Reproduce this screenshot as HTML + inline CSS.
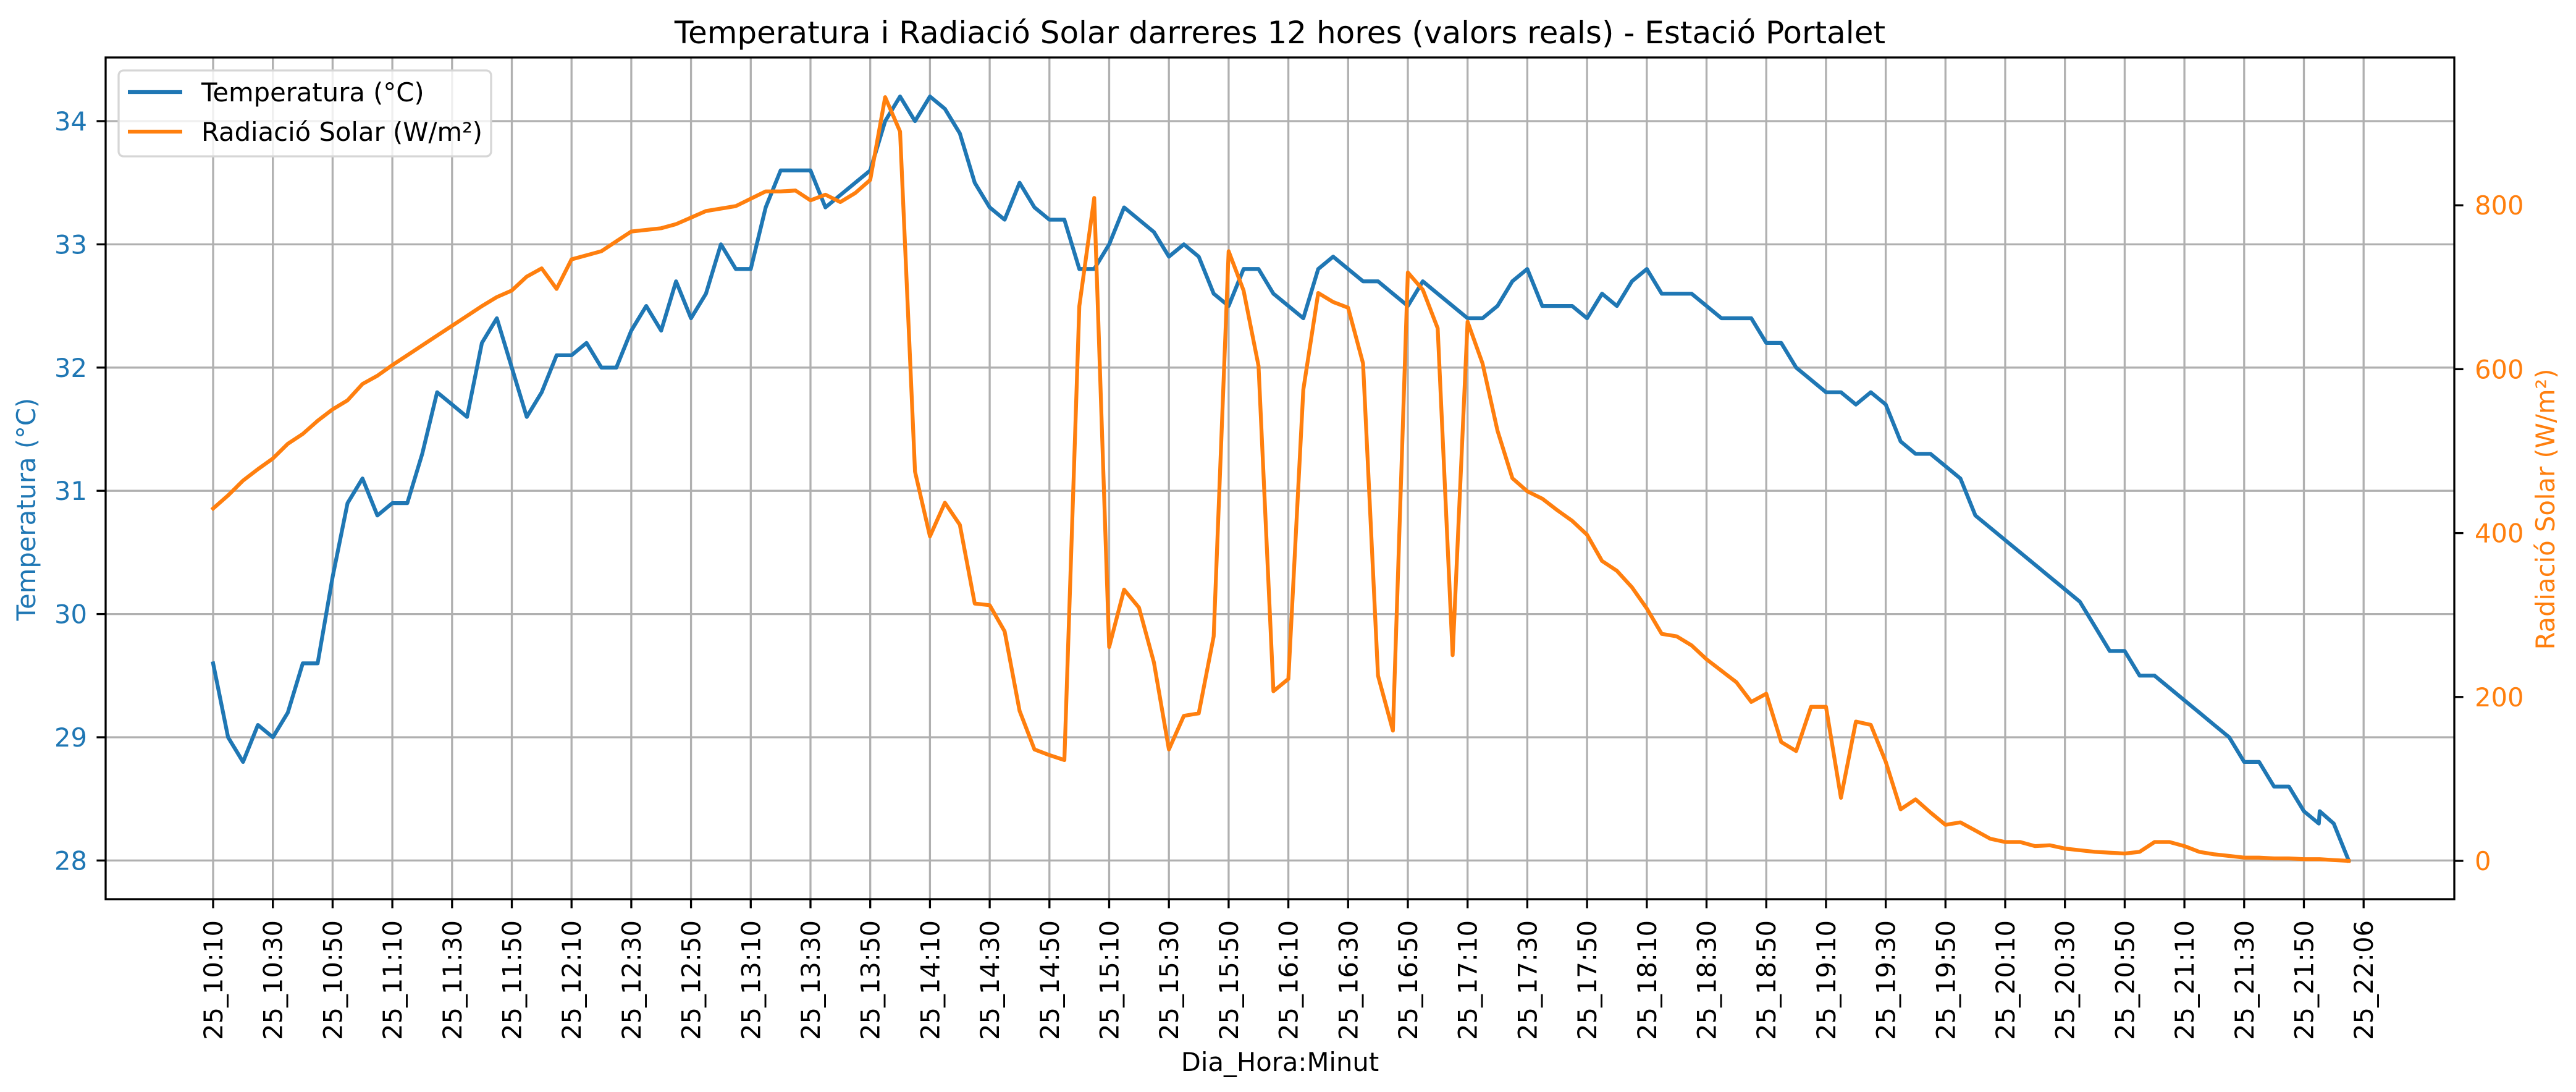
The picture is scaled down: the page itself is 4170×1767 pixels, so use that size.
<!DOCTYPE html>
<html><head><meta charset="utf-8"><title>Temperatura i Radiació Solar</title>
<style>
html,body{margin:0;padding:0;background:#fff;}
svg{display:block;font-family:"DejaVu Sans","Liberation Sans",sans-serif;}
</style></head>
<body>
<svg id="chart" xmlns="http://www.w3.org/2000/svg" width="4170" height="1767" viewBox="0 0 4170 1767">
  <rect x="0" y="0" width="4170" height="1767" fill="#fff"/>
  <text x="2072" y="70" font-size="50" text-anchor="middle" fill="#000">Temperatura i Radiació Solar darreres 12 hores (valors reals) - Estació Portalet</text>
  <g id="grid"></g>
  <g id="series"></g>
  <g id="axes"></g>
  <text transform="translate(57,824) rotate(-90)" font-size="41.7" text-anchor="middle" fill="#1f77b4">Temperatura (°C)</text>
  <text transform="translate(4135,824) rotate(-90)" font-size="41.7" text-anchor="middle" fill="#ff7f0e">Radiació Solar (W/m²)</text>
  <text x="2072" y="1733" font-size="41.7" text-anchor="middle" fill="#000">Dia_Hora:Minut</text>
  <g>
    <rect x="192" y="114" width="603" height="139" rx="8" fill="#fff" fill-opacity="0.8" stroke="#d6d6d6" stroke-width="3.3"/>
    <line x1="207" y1="149" x2="295" y2="149" stroke="#1f77b4" stroke-width="6.25"/>
    <text x="326" y="164" font-size="41.7" fill="#000">Temperatura (°C)</text>
    <line x1="207" y1="213" x2="295" y2="213" stroke="#ff7f0e" stroke-width="6.25"/>
    <text x="326" y="228" font-size="41.7" fill="#000">Radiació Solar (W/m²)</text>
  </g>
</svg>
<script>
// ---- data ----
const tickLabels = ["25_10:10","25_10:30","25_10:50","25_11:10","25_11:30","25_11:50","25_12:10","25_12:30","25_12:50","25_13:10","25_13:30","25_13:50","25_14:10","25_14:30","25_14:50","25_15:10","25_15:30","25_15:50","25_16:10","25_16:30","25_16:50","25_17:10","25_17:30","25_17:50","25_18:10","25_18:30","25_18:50","25_19:10","25_19:30","25_19:50","25_20:10","25_20:30","25_20:50","25_21:10","25_21:30","25_21:50","25_22:06"];
const tickMinutes = [0,20,40,60,80,100,120,140,160,180,200,220,240,260,280,300,320,340,360,380,400,420,440,460,480,500,520,540,560,580,600,620,640,660,680,700,720];
const sampleMinutes = [0,5,10,15,20,25,30,35,40,45,50,55,60,65,70,75,80,85,90,95,100,105,110,115,120,125,130,135,140,145,150,155,160,165,170,175,180,185,190,195,200,205,210,215,220,225,230,235,240,245,250,255,260,265,270,275,280,285,290,295,300,305,310,315,320,325,330,335,340,345,350,355,360,365,370,375,380,385,390,395,400,405,410,415,420,425,430,435,440,445,450,455,460,465,470,475,480,485,490,495,500,505,510,515,520,525,530,535,540,545,550,555,560,565,570,575,580,585,590,595,600,605,610,615,620,625,630,635,640,645,650,655,660,665,670,675,680,685,690,695,700,705,705.3,710,715];
const temperature = [29.6,29.0,28.8,29.1,29.0,29.2,29.6,29.6,30.3,30.9,31.1,30.8,30.9,30.9,31.3,31.8,31.7,31.6,32.2,32.4,32.0,31.6,31.8,32.1,32.1,
32.2,32.0,32.0,32.3,32.5,32.3,32.7,32.4,32.6,33.0,32.8,32.8,33.3,33.6,33.6,33.6,33.3,33.4,33.5,33.6,34.0,34.2,34.0,34.2,
34.1,33.9,33.5,33.3,33.2,33.5,33.3,33.2,33.2,32.8,32.8,33.0,33.3,33.2,33.1,32.9,33.0,32.9,32.6,32.5,32.8,32.8,32.6,32.5,
32.4,32.8,32.9,32.8,32.7,32.7,32.6,32.5,32.7,32.6,32.5,32.4,32.4,32.5,32.7,32.8,32.5,32.5,32.5,32.4,32.6,32.5,32.7,32.8,
32.6,32.6,32.6,32.5,32.4,32.4,32.4,32.2,32.2,32.0,31.9,31.8,31.8,31.7,31.8,31.7,31.4,31.3,31.3,31.2,31.1,30.8,30.7,30.6,
30.5,30.4,30.3,30.2,30.1,29.9,29.7,29.7,29.5,29.5,29.4,29.3,29.2,29.1,29.0,28.8,28.8,28.6,28.6,28.4,28.3,
28.4,28.3,28.0];
const radiation = [430,446,464,478,491,509,521,537,551,562,582,592,605,617,629,641,653,665,677,688,696,713,723,698,734,
739,744,756,768,770,772,777,785,793,796,799,808,817,817,818,806,813,804,815,831,932,890,475,396,
437,410,314,312,280,183,136,129,123,677,809,261,331,309,242,136,177,180,274,744,696,604,207,222,
575,693,682,675,607,226,159,718,697,650,251,658,607,525,467,451,442,428,415,398,366,354,334,308,
277,274,263,246,232,218,194,204,145,134,188,188,77,170,166,121,63,75,59,44,47,37,27,23,
23,18,19,15,13,11,10,9,11,23,23,18,11,8,6,4,4,3,3,2,2,
2,1,0];
const tempTicks = [28,29,30,31,32,33,34];
const radTicks = [0,200,400,600,800];

// ---- axes functions ----
const plotL = 171, plotR = 3973, plotT = 93, plotB = 1455;
const xPx = m => 345 + m * (96.7 / 20);
const yTemp = v => 196 + (34 - v) * 199.4;
const yRad = v => 1393 - v * 1.326;
const NS = "http://www.w3.org/2000/svg";
function mk(tag, attrs, parent) {
  const e = document.createElementNS(NS, tag);
  for (const k in attrs) e.setAttribute(k, attrs[k]);
  parent.appendChild(e);
  return e;
}
const grid = document.getElementById('grid');
const axes = document.getElementById('axes');
const series = document.getElementById('series');

// vertical grid + x ticks
tickMinutes.forEach((m, i) => {
  const x = xPx(m);
  const gl = mk('line', {x1: x, y1: plotT, x2: x, y2: plotB, stroke: '#b0b0b0', 'stroke-width': 3.3}, grid);
  
  
  const tk = mk('line', {x1: x, y1: plotB, x2: x, y2: plotB + 14.6, stroke: '#000', 'stroke-width': 3.3}, axes);
  
  
  const t = mk('text', {transform: `translate(${x + 15},${1489}) rotate(-90)`, 'font-size': 41.7, 'text-anchor': 'end', fill: '#000'}, axes);
  
  
  t.textContent = tickLabels[i];
});
// horizontal grid + left ticks
tempTicks.forEach(v => {
  const y = yTemp(v);
  const gl = mk('line', {x1: plotL, y1: y, x2: plotR, y2: y, stroke: '#b0b0b0', 'stroke-width': 3.3}, grid);
  
  
  const tk = mk('line', {x1: plotL - 14.6, y1: y, x2: plotL, y2: y, stroke: '#000', 'stroke-width': 3.3}, axes);
  
  
  const t = mk('text', {x: 141, y: y + 15, 'font-size': 41.7, 'text-anchor': 'end', fill: '#1f77b4'}, axes);
  
  
  t.textContent = v;
});
// right ticks
radTicks.forEach(v => {
  const y = yRad(v);
  const tk = mk('line', {x1: plotR, y1: y, x2: plotR + 14.6, y2: y, stroke: '#000', 'stroke-width': 3.3}, axes);
  
  
  const t = mk('text', {x: 4006, y: y + 15, 'font-size': 41.7, 'text-anchor': 'start', fill: '#ff7f0e'}, axes);
  
  
  t.textContent = v;
});
// spines
const sp = mk('rect', {x: plotL, y: plotT, width: plotR - plotL, height: plotB - plotT, fill: 'none', stroke: '#000', 'stroke-width': 3.3}, axes);



// series
const tPts = temperature.map((v, i) => `${xPx(sampleMinutes[i]).toFixed(1)},${yTemp(v).toFixed(1)}`).join(' ');
const tl = mk('polyline', {points: tPts, fill: 'none', stroke: '#1f77b4', 'stroke-width': 6.25, 'stroke-linejoin': 'round', 'stroke-linecap': 'square'}, series);


const rPts = radiation.map((v, i) => `${xPx(sampleMinutes[i]).toFixed(1)},${yRad(v).toFixed(1)}`).join(' ');
const rl = mk('polyline', {points: rPts, fill: 'none', stroke: '#ff7f0e', 'stroke-width': 6.25, 'stroke-linejoin': 'round', 'stroke-linecap': 'square'}, series);


</script>
</body></html>
